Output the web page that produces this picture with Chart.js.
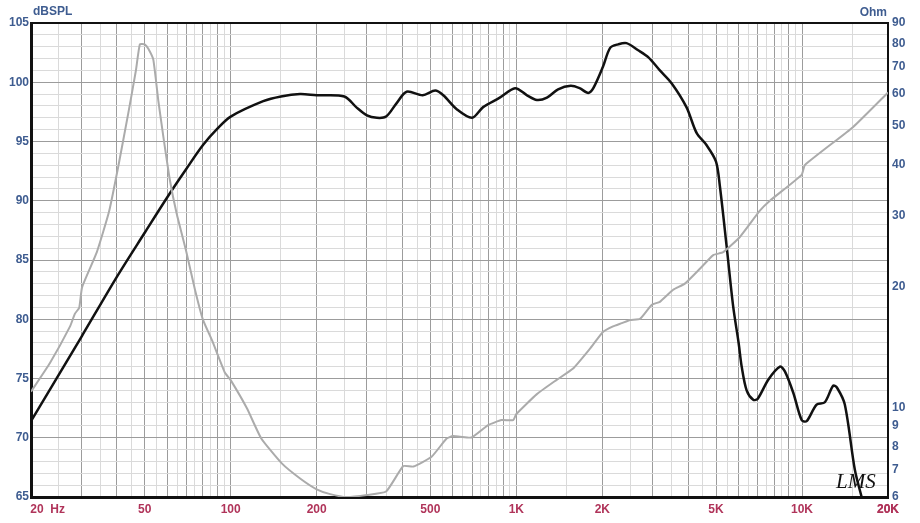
<!DOCTYPE html>
<html>
<head>
<meta charset="utf-8">
<title>SPL / Impedance</title>
<script src="https://cdn.jsdelivr.net/npm/chart.js@4.4.1/dist/chart.umd.min.js"></script>
<style>
  html, body { margin: 0; padding: 0; background: #fff; }
  #wrap { width: 920px; height: 523px; }
</style>
</head>
<body>
<div id="wrap"><canvas id="respChart" width="920" height="523"></canvas></div>
<script>
// SPL curve (black, left axis)
const splFreq = [20, 30, 40, 50, 60, 70, 80, 90, 100, 130, 150, 175, 200, 250, 275, 300, 325, 350, 380, 413,
  470, 520, 555, 620, 700, 765, 875, 990, 1090, 1180, 1280, 1400, 1550, 1665, 1785, 1860, 2010, 2130, 2270, 2430,
  2670, 2900, 3180, 3500, 3940, 4280, 4630, 5000, 5160, 5450, 5740, 6000, 6150, 6400, 6750, 7000, 7620, 8370, 8710, 9320,
  9970, 10380, 11250, 12020, 12860, 13280, 14120, 15310, 16170];
const splDb = [71.4, 78.5, 83.6, 87.3, 90.3, 92.7, 94.7, 96.1, 97.1, 98.4, 98.8, 99.0, 98.9, 98.8, 97.9, 97.2, 97.0, 97.1, 98.2, 99.2,
  98.9, 99.3, 98.9, 97.7, 97.0, 97.9, 98.7, 99.5, 98.9, 98.5, 98.7, 99.4, 99.7, 99.5, 99.1, 99.5, 101.3, 102.9, 103.2, 103.3,
  102.7, 102.1, 101.0, 99.9, 97.9, 95.7, 94.7, 93.3, 91.2, 86.1, 81.1, 78.0, 76.0, 74.0, 73.2, 73.3, 74.9, 76.0, 75.6, 73.8,
  71.5, 71.4, 72.8, 73.0, 74.4, 74.2, 72.8, 67.3, 65.0];

// Impedance curve (grey, right axis)
const impFreq = [20, 23.3, 27.4, 28.5, 29.5, 30.2, 34, 37.5, 40.4, 43.8, 46.6, 48.1, 50, 51.5, 53.6, 55.8, 58.1, 61.3, 64.7, 70,
  75, 80, 86, 95.5, 100, 114, 128, 151, 175, 200, 223, 255, 300, 350, 402, 436, 505, 570, 600, 635, 697, 797, 888, 975, 1000,
  1180, 1380, 1580, 1810, 2010, 2180, 2340, 2500, 2710, 2980, 3180, 3540, 3890, 4390, 4890, 5300, 6060, 7120, 7720, 9970,
  10240, 15110, 20000];
const impOhm = [10.95, 12.9, 15.9, 17.1, 17.7, 19.9, 24.3, 30.6, 39.6, 53.7, 68.7, 79.7, 79.7, 77.7, 73.0, 57.8, 47.1, 36.6, 30.3, 24.3,
  19.6, 16.5, 14.7, 12.2, 11.7, 9.96, 8.38, 7.27, 6.67, 6.27, 6.1, 6.0, 6.07, 6.19, 7.16, 7.14, 7.55, 8.38, 8.5, 8.47, 8.43, 9.05, 9.31, 9.31, 9.64,
  10.8, 11.7, 12.5, 14.0, 15.4, 15.9, 16.2, 16.5, 16.6, 18.0, 18.3, 19.6, 20.3, 22.1, 23.9, 24.3, 26.5, 30.8, 32.6, 37.8,
  40.0, 49.7, 60.5];

// Axis tick labels
const freqTickValues = [20, 50, 100, 200, 500, 1000, 2000, 5000, 10000, 20000];
const freqTickLabels = ["          20  Hz", "50", "100", "200", "500", "1K", "2K", "5K", "10K", "20K"];
const ohmTicks = [6, 7, 8, 9, 10, 20, 30, 40, 50, 60, 70, 80, 90];

const blueText = "#3e5c90";
const redText = "#b0345a";
const darkGrid = "#9c9c9c";
const lightGrid = "#dadada";

// frequency grid: 1..9.5 steps of 0.5 per decade
function freqGridValues() {
  const vals = [];
  [10, 100, 1000, 10000].forEach((dec) => {
    for (let m = 1; m < 10; m += 0.5) {
      const v = m * dec;
      if (v >= 20 && v <= 20000) vals.push(v);
    }
  });
  vals.push(20000);
  return vals;
}

function isWholeMantissa(v) {
  const m = v / Math.pow(10, Math.floor(Math.log10(v) + 1e-9));
  return Math.abs(m - Math.round(m)) < 1e-6;
}

// Axis captions, top frame and signature
const extrasPlugin = {
  id: "extras",
  afterDraw(chart) {
    const { ctx, chartArea } = chart;
    ctx.save();
    ctx.strokeStyle = "#111";
    ctx.lineWidth = 2;
    ctx.beginPath();
    ctx.moveTo(chartArea.left - 1, chartArea.top);
    ctx.lineTo(chartArea.right + 1, chartArea.top);
    ctx.stroke();

    ctx.font = "bold 12px 'Liberation Sans', Arial, sans-serif";
    ctx.fillStyle = blueText;
    ctx.textBaseline = "middle";
    ctx.textAlign = "left";
    ctx.fillText("dBSPL", chartArea.left + 2, 12);
    ctx.textAlign = "right";
    ctx.fillText("Ohm", chartArea.right - 1, 13);

    ctx.font = "italic 21px 'Liberation Serif', serif";
    ctx.fillStyle = "#111";
    ctx.textAlign = "left";
    ctx.fillText("LMS", 836, 482);
    ctx.restore();
  },
};

const ctx = document.getElementById("respChart").getContext("2d");
new Chart(ctx, {
  type: "line",
  data: {
    datasets: [
      {
        label: "Impedance",
        data: impFreq.map((f, i) => ({ x: f, y: impOhm[i] })),
        yAxisID: "y1",
        borderColor: "#ababab",
        borderWidth: 2,
        pointRadius: 0,
        tension: 0.15,
        fill: false,
      },
      {
        label: "SPL",
        data: splFreq.map((f, i) => ({ x: f, y: splDb[i] })),
        yAxisID: "y",
        borderColor: "#111111",
        borderWidth: 2.5,
        pointRadius: 0,
        tension: 0.3,
        fill: false,
      },
    ],
  },
  options: {
    responsive: false,
    animation: false,
    layout: { padding: { top: 23, left: 0, right: 0, bottom: 0 } },
    plugins: {
      legend: { display: false },
      tooltip: { enabled: false },
    },
    scales: {
      x: {
        type: "logarithmic",
        min: 20,
        max: 20000,
        afterBuildTicks: (scale) => {
          scale.ticks = freqGridValues().map((v) => ({ value: v }));
        },
        afterFit: (scale) => {
          scale.height = 26;
          scale.paddingLeft = 0;
          scale.paddingRight = 0;
        },
        ticks: {
          autoSkip: false,
          maxRotation: 0,
          padding: 5,
          color: redText,
          font: { family: "'Liberation Sans', Arial, sans-serif", size: 12, weight: "bold" },
          callback: (value) => {
            const idx = freqTickValues.findIndex((v) => Math.abs(v - value) < 1e-6);
            return idx >= 0 ? freqTickLabels[idx] : "";
          },
        },
        grid: {
          drawTicks: false,
          color: (c) => (c.tick && isWholeMantissa(c.tick.value) ? darkGrid : lightGrid),
          lineWidth: 1,
        },
        border: { color: "#111", width: 3 },
      },
      y: {
        type: "linear",
        position: "left",
        min: 65,
        max: 105,
        afterFit: (scale) => {
          scale.width = 31;
          scale.paddingTop = 0;
          scale.paddingBottom = 0;
        },
        ticks: {
          stepSize: 1,
          autoSkip: false,
          padding: 2,
          color: blueText,
          font: { family: "'Liberation Sans', Arial, sans-serif", size: 12, weight: "bold" },
          callback: (value) => (value % 5 === 0 ? String(value) : ""),
        },
        grid: {
          drawTicks: false,
          color: (c) => (c.tick && c.tick.value % 5 === 0 ? darkGrid : lightGrid),
          lineWidth: 1,
        },
        border: { color: "#111", width: 3 },
      },
      y1: {
        type: "logarithmic",
        position: "right",
        min: 6,
        max: 90,
        afterBuildTicks: (scale) => {
          scale.ticks = ohmTicks.map((v) => ({ value: v }));
        },
        afterFit: (scale) => {
          scale.width = 32;
          scale.paddingTop = 0;
          scale.paddingBottom = 0;
        },
        ticks: {
          autoSkip: false,
          padding: 4,
          color: blueText,
          font: { family: "'Liberation Sans', Arial, sans-serif", size: 12, weight: "bold" },
          callback: (value) => String(value),
        },
        grid: { display: false, drawTicks: false },
        border: { color: "#111", width: 2 },
      },
    },
  },
  plugins: [extrasPlugin],
});
</script>
</body>
</html>
